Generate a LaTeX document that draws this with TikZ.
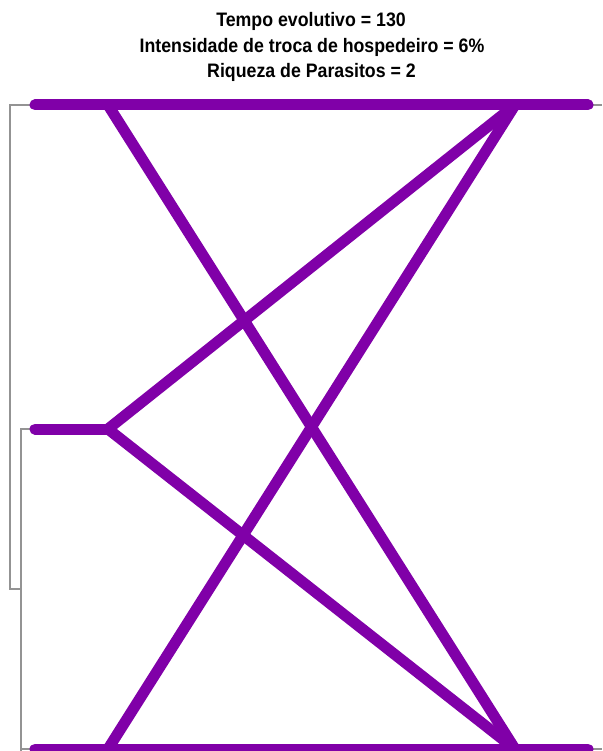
\documentclass[tikz,border=0pt]{standalone}
\usepackage{fontspec}
\setmainfont{Liberation Sans}
\usepackage{tikz}

\definecolor{hostpurple}{RGB}{128,0,168}
\newcommand{\narrowtext}[1]{\scalebox{0.91}[1]{#1}}

\begin{document}
\begin{tikzpicture}[
    x=1pt, y=-1pt,
    link/.style={line width=11pt, hostpurple, line cap=round},
    branch/.style={line width=1.2pt, gray!85},
    title/.style={font=\bfseries\fontsize{19.5}{25}\selectfont, anchor=base, inner sep=0pt}
]

\clip (0,0) rectangle (602,751);
\useasboundingbox (0,0) rectangle (602,751);

% Define title
\node[title] (t1) at (311,27) {\narrowtext{Tempo evolutivo = 130}};
\node[title] (t2) at (312,53) {\narrowtext{Intensidade de troca de hospedeiro = 6\%}};
\node[title] (t3) at (311.5,78) {\narrowtext{Riqueza de Parasitos = 2}};

% Define tips
\coordinate (a1) at (35,105);
\coordinate (a2) at (35,429);
\coordinate (a3) at (35,749);
\coordinate (h1) at (108,105);
\coordinate (h2) at (108,429);
\coordinate (h3) at (108,749);
\coordinate (p1) at (515,105);
\coordinate (p2) at (515,749);
\coordinate (b1) at (588,105);
\coordinate (b2) at (588,749);
\coordinate (e1) at (602,105);
\coordinate (e2) at (602,749);

% Define tree
\draw[branch] (a1) -- (10,105) -- (10,589) -- (21,589);
\draw[branch] (a2) -- (21,429) -- (21,751);
\draw[branch] (21,749) -- (a3);
\draw[branch] (b1) -- (e1);
\draw[branch] (b2) -- (e2);

% Define links
\draw[link] (a1) -- (b1);
\draw[link] (a2) -- (h2);
\draw[link] (a3) -- (b2);
\draw[link] (h1) -- (p2);
\draw[link] (p1) -- (h2);
\draw[link] (h2) -- (p2);
\draw[link] (p1) -- (h3);

\end{tikzpicture}
\end{document}
